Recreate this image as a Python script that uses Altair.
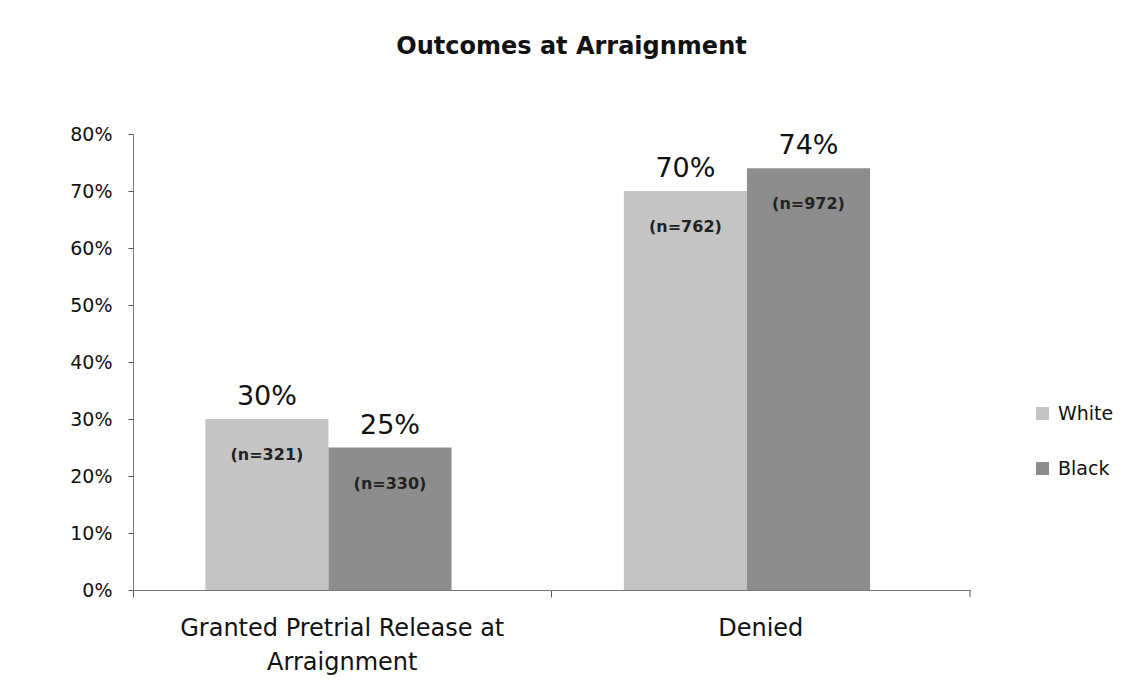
import altair as alt
import pandas as pd

categories = ["Granted Pretrial Release at\nArraignment", "Denied"]
races = ["White", "Black"]
pct_white = [30, 70]
pct_black = [25, 74]
n_white = [321, 762]
n_black = [330, 972]
colors = ["#c4c4c4", "#8d8d8d"]
y_ticks = [0, 0.1, 0.2, 0.3, 0.4, 0.5, 0.6, 0.7, 0.8]

rows = []
for i, c in enumerate(categories):
    rows.append({"cat": c, "race": "White", "pct": pct_white[i] / 100, "n": n_white[i]})
    rows.append({"cat": c, "race": "Black", "pct": pct_black[i] / 100, "n": n_black[i]})
df = pd.DataFrame(rows)
df["pct_label"] = (df["pct"] * 100).round().astype(int).astype(str) + "%"
df["n_label"] = "(n=" + df["n"].astype(str) + ")"

FONT = "DejaVu Sans"
W, H = 837, 456

x_enc = alt.X("cat:N", sort=categories,
              scale=alt.Scale(paddingInner=0, paddingOuter=0),
              axis=alt.Axis(title=None, labelAngle=0, labelFontSize=24, labelFont=FONT,
                            labelColor="#111", labelPadding=19, labelLineHeight=34,
                            labelLimit=0,
                            labelExpr="split(datum.label, '\\n')",
                            bandPosition=0, tickSize=7, tickColor="#555",
                            domainColor="#777", labelBaseline="top"))
xoff = alt.XOffset("race:N", sort=races,
                   scale=alt.Scale(paddingInner=0, paddingOuter=0.7, align=0.42))
y_enc = alt.Y("pct:Q", scale=alt.Scale(domain=[0, 0.8]),
              axis=alt.Axis(title=None, values=y_ticks, format=".0%", grid=False,
                            labelFontSize=19, labelFont=FONT, labelColor="#111",
                            labelPadding=16, tickSize=5, tickColor="#555",
                            domainColor="#777"))

base = alt.Chart(df)

bars = base.mark_bar().encode(
    x=x_enc, xOffset=xoff, y=y_enc,
    color=alt.Color("race:N", sort=races,
                    scale=alt.Scale(domain=races, range=colors),
                    legend=alt.Legend(title=None, orient="none", legendX=900, legendY=270,
                                      labelFontSize=19, labelFont=FONT, labelColor="#111",
                                      symbolType="square", symbolSize=170,
                                      symbolStrokeWidth=0, rowPadding=35, labelOffset=6)),
)

pct_text = base.mark_text(baseline="bottom", dy=-8, fontSize=27, font=FONT,
                          color="#111").encode(
    x=alt.X("cat:N", sort=categories), xOffset=alt.XOffset("race:N", sort=races),
    y="pct:Q", text="pct_label:N")

n_text = base.mark_text(baseline="middle", dy=36, fontSize=16, fontWeight="bold",
                        font=FONT, color="#222").encode(
    x=alt.X("cat:N", sort=categories), xOffset=alt.XOffset("race:N", sort=races),
    y="pct:Q", text="n_label:N")

end_tick = alt.Chart(pd.DataFrame({"cat": [categories[-1]]})).mark_rule(
    color="#555").encode(
    x=alt.X("cat:N", sort=categories, bandPosition=1),
    y=alt.value(H), y2=alt.value(H + 7))

chart = alt.layer(bars, pct_text, n_text, end_tick).properties(
    width=W, height=H,
    title=alt.Title("Outcomes at Arraignment", fontSize=24, fontWeight="bold", font=FONT,
                    color="#111", anchor="middle", frame="group", dx=20, offset=66),
    autosize=alt.AutoSizeParams(type="none"),
    padding={"left": 125, "top": 126, "right": 163, "bottom": 95},
).configure_view(stroke=None)

chart.save("out.html", embed_options={"renderer": "svg", "actions": False})
